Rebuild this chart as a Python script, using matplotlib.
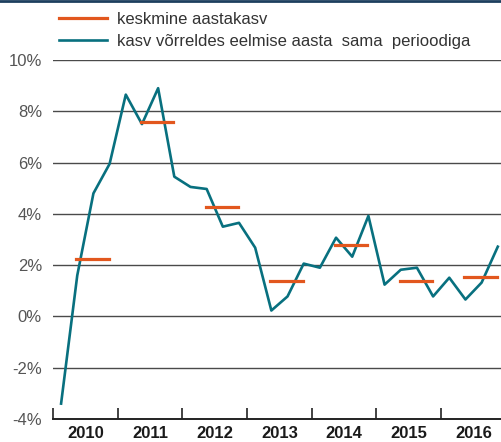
import numpy as np
import matplotlib.pyplot as plt
from matplotlib.lines import Line2D

plt.rcParams['font.family'] = ['Liberation Sans', 'DejaVu Sans']

# kvartaalne kasv vorreldes eelmise aasta sama perioodiga (%)
years = [2010, 2011, 2012, 2013, 2014, 2015, 2016]
quarterly = [
    -3.4, 1.6, 4.8, 5.95,
    8.65, 7.5, 8.9, 5.45,
    5.05, 4.97, 3.5, 3.65,
    2.68, 0.23, 0.78, 2.06,
    1.9, 3.07, 2.33, 3.92,
    1.24, 1.82, 1.9, 0.78,
    1.51, 0.66, 1.32, 2.72,
]
# keskmine aastakasv (%)
annual_avg = [2.25, 7.6, 4.27, 1.4, 2.8, 1.4, 1.55]

teal = '#08707f'
orange = '#e2571e'

fig = plt.figure(figsize=(5.02, 4.42), dpi=100)
ax = fig.add_axes([53 / 502, 1 - 419 / 442, 1 - 53 / 502, (419 - 60) / 442])

x_q = np.array([y + (q + 0.5) / 4 for y in years for q in range(4)])

for yv in range(-2, 11, 2):
    ax.axhline(yv, color='#4a4a4a', lw=1.0, zorder=1)

ax.plot(x_q, quarterly, color=teal, lw=1.9, zorder=3,
        label='kasv võrreldes eelmise aasta  sama  perioodiga')
for i, (yr, v) in enumerate(zip(years, annual_avg)):
    ax.plot([yr + 0.36, yr + 0.86], [v, v], color=orange, lw=2.3, zorder=4,
            label='keskmine aastakasv' if i == 0 else None)

ax.set_xlim(2010, 2016.94)
ax.set_ylim(-4, 10)
ax.set_yticks(range(-4, 11, 2))
ax.set_yticklabels([f'{v}%' for v in range(-4, 11, 2)])
ax.set_xticks(years)
ax.set_xticklabels([])
ax.set_xticks([y + 0.5 for y in years], minor=True)
ax.set_xticklabels([str(y) for y in years], minor=True, fontweight='bold',
                   fontsize=12, color='#1a1a1a')
ax.tick_params(axis='x', which='major', direction='in', length=8, width=1.2,
               color='#222222')
ax.tick_params(axis='x', which='minor', length=0, pad=5)
ax.tick_params(axis='y', length=0, labelsize=12, labelcolor='#555555', pad=8)

for s in ['top', 'right', 'left']:
    ax.spines[s].set_visible(False)
ax.spines['bottom'].set_linewidth(1.4)
ax.spines['bottom'].set_color('#222222')

handles, labels = ax.get_legend_handles_labels()
order = [1, 0]
fig.legend([handles[i] for i in order], [labels[i] for i in order],
           loc='upper left', bbox_to_anchor=(44 / 502, 1 + 3 / 442),
           frameon=False, fontsize=12, handlelength=2.9, handletextpad=0.6,
           labelspacing=0.4, labelcolor='#333333')

fig.add_artist(Line2D([0, 1], [1 - 1 / 442, 1 - 1 / 442], color='#1d3f5e',
                      lw=2.0, transform=fig.transFigure))

plt.savefig('out.png', dpi=100)
plt.close()
